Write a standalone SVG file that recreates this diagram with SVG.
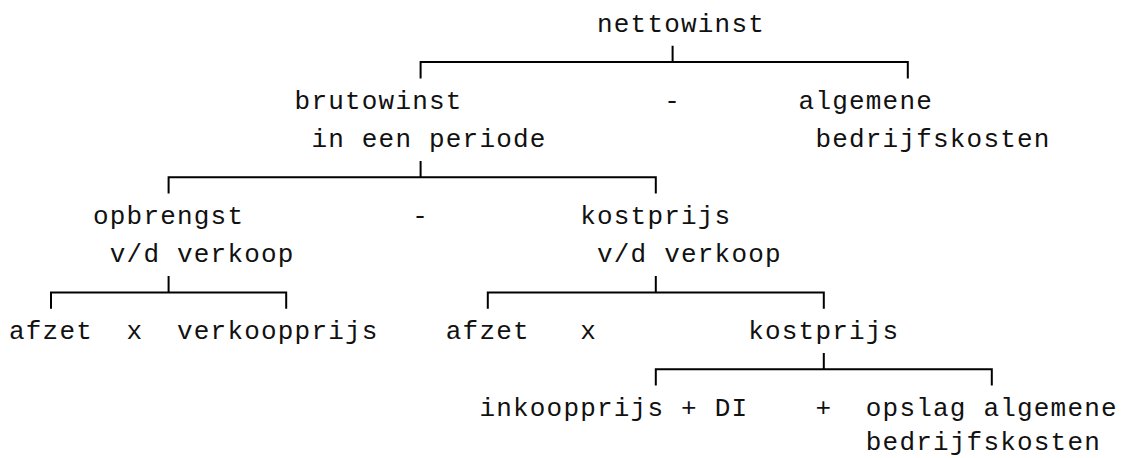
<svg xmlns="http://www.w3.org/2000/svg" width="1124" height="458" viewBox="0 0 1124 458">
<style>
text { font-family: "Liberation Mono", "Courier New", monospace; font-size: 26px; letter-spacing: 1.2px; fill: #111; }
.c { fill: none; stroke: #000; stroke-width: 2; stroke-linecap: square; }
</style>
<rect width="1124" height="458" fill="#fff"/>
<g id="connectors">
<path class="c" d="M672.6,46.7 V62 M420.6,77.4 V62 H907.8 V77.4"/>
<path class="c" d="M420.6,161.9 V177.2 M168.6,192.6 V177.2 H655.8 V192.6"/>
<path class="c" d="M168.6,277.1 V292.4 M51,307.8 V292.4 H286.2 V307.8"/>
<path class="c" d="M655.8,277.1 V292.4 M487.8,307.8 V292.4 H823.8 V307.8"/>
<path class="c" d="M823.8,353.9 V369.2 M655.8,384.6 V369.2 H991.8 V384.6"/>
</g>
<g id="nettowinst"><text x="597" y="32">nettowinst</text></g>
<g id="brutowinst"><text x="294.6" y="108.8">brutowinst</text><text x="311.4" y="147.2">in een periode</text></g>
<g id="op-minus-1"><text x="664.2" y="108.8">-</text></g>
<g id="algemene-bedrijfskosten"><text x="798.6" y="108.8">algemene</text><text x="815.4" y="147.2">bedrijfskosten</text></g>
<g id="opbrengst"><text x="93" y="224">opbrengst</text><text x="109.8" y="262.4">v/d verkoop</text></g>
<g id="op-minus-2"><text x="412.2" y="224">-</text></g>
<g id="kostprijs-verkoop"><text x="580.2" y="224">kostprijs</text><text x="597" y="262.4">v/d verkoop</text></g>
<g id="afzet-1"><text x="9" y="339.2">afzet</text></g>
<g id="op-x-1"><text x="126.6" y="339.2">x</text></g>
<g id="verkoopprijs"><text x="177" y="339.2">verkoopprijs</text></g>
<g id="afzet-2"><text x="445.8" y="339.2">afzet</text></g>
<g id="op-x-2"><text x="580.2" y="339.2">x</text></g>
<g id="kostprijs"><text x="748.2" y="339.2">kostprijs</text></g>
<g id="inkoopprijs"><text x="479.4" y="416">inkoopprijs + DI</text></g>
<g id="op-plus"><text x="815.4" y="416">+</text></g>
<g id="opslag"><text x="865.8" y="416">opslag algemene</text><text x="865.8" y="449.5">bedrijfskosten</text></g>
</svg>
